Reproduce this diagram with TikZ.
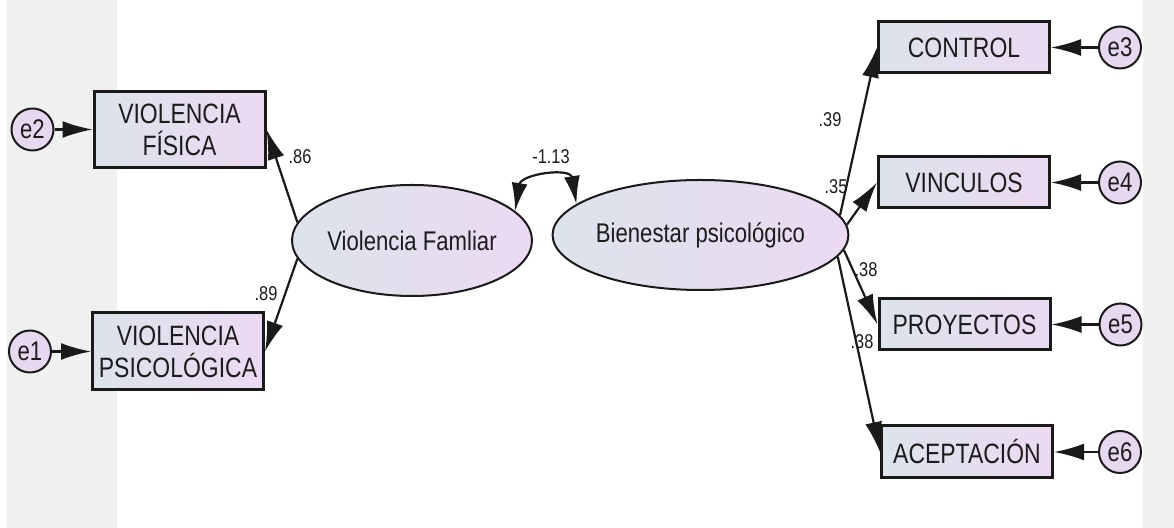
\documentclass[tikz,border=0pt]{standalone}
\usepackage{fontspec}
\setmainfont{Liberation Sans}[FakeStretch=0.82]
\usepackage{xcolor}
\usetikzlibrary{shapes,arrows.meta,positioning}

\definecolor{boxleft}{HTML}{DCE3EA}
\definecolor{boxright}{HTML}{ECDAF3}
\definecolor{errfill}{HTML}{E6D8EE}
\definecolor{edgecol}{HTML}{1A1A1A}
\definecolor{panel}{HTML}{F0F0F0}
\definecolor{ink}{HTML}{1C1C1C}

\begin{document}
\begin{tikzpicture}[
    x=0.5pt, y=-0.5pt,
    indic/.style={rectangle, draw=edgecol, line width=1.5pt, left color=boxleft, right color=boxright, minimum width=85.5pt, align=center, inner sep=0pt, text=ink, font=\fontsize{14}{16}\selectfont},
    latent/.style={ellipse, draw=edgecol, line width=1pt, left color=boxleft, right color=boxright, inner sep=0pt, text=ink, font=\fontsize{13.5}{15}\selectfont},
    err/.style={circle, draw=edgecol, line width=1pt, fill=errfill, minimum size=21pt, inner sep=0pt, text=ink, font=\fontsize{13.5}{13.5}\selectfont},
    load/.style={-{Latex[length=15pt,width=8.5pt]}, line width=1.1pt, draw=edgecol},
    coef/.style={inner sep=1pt, text=ink, font=\fontsize{10}{10}\selectfont}
]

% page and side panels
\useasboundingbox (0,0) rectangle (1174,528);
\fill[white] (0,0) rectangle (1174,528);
\fill[panel] (7,0) rectangle (117,528);
\fill[panel] (1143,0) rectangle (1174,528);

% observed variables
\node[indic, minimum height=38pt] (fis) at (179.5,129.5) {VIOLENCIA\\FÍSICA};
\node[indic, minimum height=38.5pt] (psi) at (178,351.5) {VIOLENCIA\\PSICOLÓGICA};
\node[indic, minimum height=25.5pt] (ctrl) at (964,47.5) {CONTROL};
\node[indic, minimum height=25.5pt] (vinc) at (964,182.5) {VINCULOS};
\node[indic, minimum height=25.5pt] (proy) at (964.5,324.5) {PROYECTOS};
\node[indic, minimum height=26pt] (acep) at (967,452) {ACEPTACIÓN};

% latent variables
\node[latent, minimum width=120pt, minimum height=55.5pt] (vf) at (412,240.5) {Violencia Famliar};
\node[latent, minimum width=132.5pt, minimum height=55pt] (bp) at (700.5,235) {Bienestar psicológico};

% errors
\node[err, left=19pt of fis] (e2) {e2};
\node[err, left=19.5pt of psi] (e1) {e1};
\node[err, right=23.5pt of ctrl] (e3) {e3};
\node[err, right=23.5pt of vinc] (e4) {e4};
\node[err, right=23.5pt of proy] (e5) {e5};
\node[err, right=22pt of acep] (e6) {e6};

\draw[load] (e2) -- (fis);
\draw[load] (e1) -- (psi);
\draw[load] (e3) -- (ctrl);
\draw[load] (e4) -- (vinc);
\draw[load] (e5) -- (proy);
\draw[load] (e6) -- (acep);

% loadings
\draw[load] (vf.171) -- (fis.east);
\draw[load] (vf.189) -- (psi.east);
\draw[load] (bp.8) -- (ctrl.west);
\draw[load] (bp.4) -- (vinc.west);
\draw[load] (bp.-6) -- (proy.west);
\draw[load] (bp.-9) -- (acep.west);

% covariance
\draw[{Latex[length=14pt,width=8pt]}-{Latex[length=14pt,width=8pt]}, line width=1.1pt, edgecol]
    (vf.16) .. controls +(6,-37) and +(-6,-37) .. (bp.166);

\node[coef] (c86) at (300,157) {.86};
\node[coef] (c89) at (266,294) {.89};
\node[coef] (c113) at (551,157) {-1.13};
\node[coef] (c39) at (830,120) {.39};
\node[coef] (c35) at (836,187) {.35};
\node[coef] (c38a) at (866,270) {.38};
\node[coef] (c38b) at (862,342) {.38};

\end{tikzpicture}
\end{document}
